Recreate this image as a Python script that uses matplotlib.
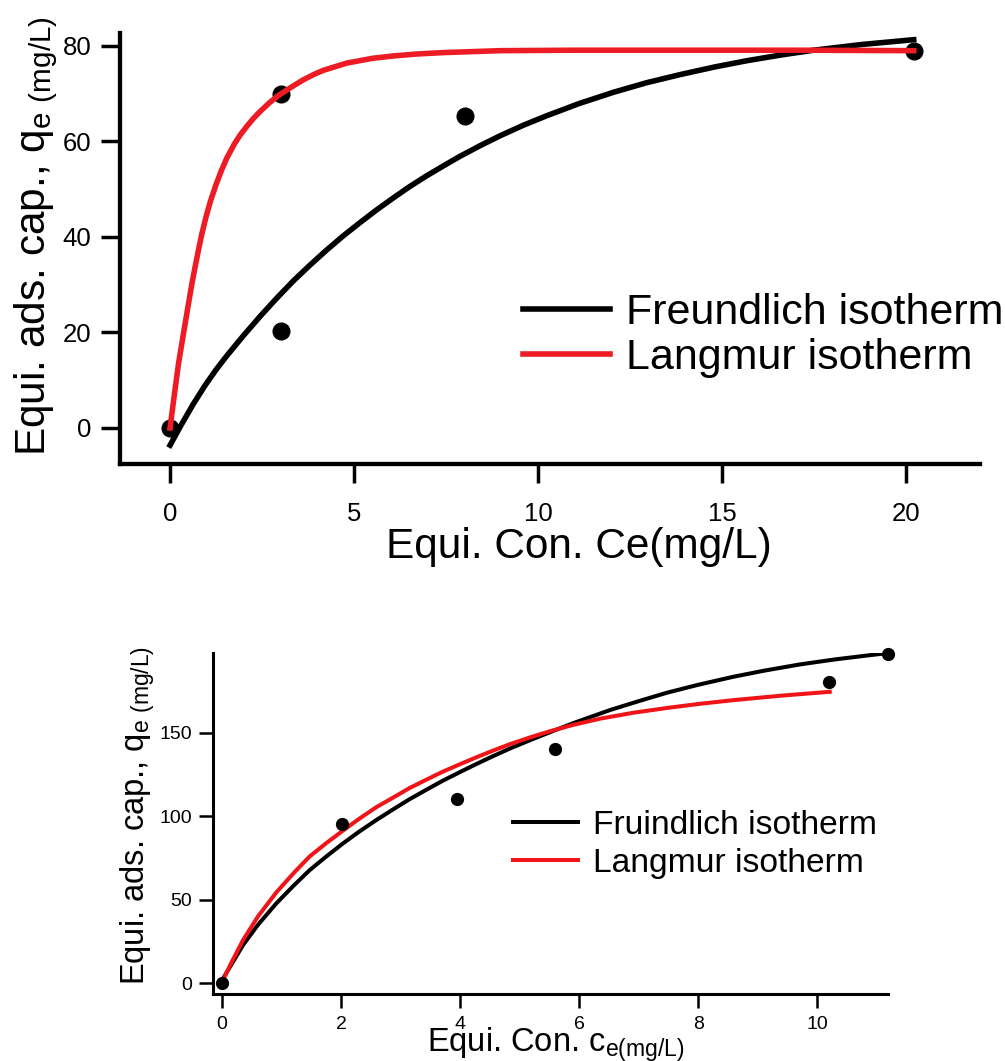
import matplotlib
matplotlib.use('Agg')
import matplotlib.pyplot as plt

plt.rcParams['font.family'] = ['Liberation Sans', 'DejaVu Sans']
plt.rcParams['mathtext.fontset'] = 'custom'
plt.rcParams['mathtext.rm'] = 'Liberation Sans'

# upper panel: measured points and the two fitted isotherms
ce_top = [0, 3, 3, 8, 20.2]
qe_top = [0, 70, 20.3, 65.3, 79.0]

freund_c_top = [0, 0.3, 0.63, 0.95, 1.25, 1.54, 2.0, 2.45, 2.9, 3.35, 3.8, 4.26,
                4.7, 5.16, 5.6, 6.07, 6.5, 6.97, 7.43, 7.88, 8.42, 8.97, 9.6,
                10.24, 11.1, 12.05, 12.95, 13.86, 14.8, 15.67, 16.6, 17.48,
                18.8, 20.2]
freund_q_top = [-3.6, 0.6, 5.0, 8.9, 12.2, 15.1, 19.4, 23.4, 27.2, 30.8, 34.1,
                37.3, 40.2, 43.0, 45.6, 48.2, 50.5, 52.8, 54.9, 56.9, 59.1, 61.2,
                63.4, 65.4, 67.9, 70.3, 72.3, 74.0, 75.6, 76.9, 78.1, 79.1,
                80.3, 81.3]

lang_c_top = [0, 0.1, 0.23, 0.38, 0.5, 0.6, 0.70, 0.78, 0.86, 0.97, 1.09, 1.25,
              1.4, 1.54, 1.75, 1.9, 2.10, 2.25, 2.45, 2.7, 2.94, 3.3, 3.62, 3.9,
              4.17, 4.8, 5.5, 6.07, 6.7, 7.43, 8.2, 8.97, 11, 14, 17, 20.2]
lang_q_top = [0, 6, 13.5, 20.5, 26, 30.5, 34.5, 37.6, 40.5, 44, 47.3, 51, 54,
              56.5, 59.5, 61.3, 63.3, 64.7, 66.3, 68.1, 69.6, 71.4, 72.9, 74.0,
              74.9, 76.4, 77.4, 77.9, 78.3, 78.6, 78.8, 79.0, 79.1, 79.1, 79.1,
              79.0]

# lower panel
ce_bot = [0, 2.02, 3.95, 5.6, 10.2, 11.19]
qe_bot = [0, 95.2, 110.2, 140.1, 180.6, 197.5]

freund_c_bot = [0, 0.15, 0.35, 0.6, 0.91, 1.2, 1.47, 1.75, 2.03, 2.3, 2.59, 2.9,
                3.15, 3.45, 3.71, 4.0, 4.28, 4.56, 4.84, 5.2, 5.6, 5.96, 6.52,
                7.0, 7.47, 8.0, 8.59, 9.1, 9.71, 10.3, 10.83, 11.19]
freund_q_bot = [2, 11, 22.9, 35, 47.9, 58.5, 67.8, 76, 83.8, 90.8, 97.8, 104.8,
                110.3, 116.3, 121.4, 126.6, 131.5, 136.2, 140.7, 146.0, 151.7,
                156.6, 163.7, 169.0, 174.0, 178.8, 183.6, 187.2, 191.0, 194.0,
                196.3, 197.8]

lang_c_bot = [0, 0.15, 0.35, 0.6, 0.91, 1.2, 1.47, 1.75, 2.03, 2.3, 2.59, 2.9,
              3.15, 3.45, 3.71, 4.0, 4.28, 4.56, 4.84, 5.2, 5.51, 5.9, 6.35, 6.9,
              7.47, 8.0, 8.59, 9.4, 10.21]
lang_q_bot = [1, 12, 25.9, 40, 54.5, 66, 76, 84, 91.5, 98.5, 105.5, 111.8, 117.0,
              122.3, 126.8, 131.3, 135.5, 139.5, 143.3, 147.6, 151.0, 154.8,
              158.5, 162.0, 164.9, 167.3, 169.6, 172.3, 174.6]

fig = plt.figure(figsize=(10.05, 10.61), dpi=100)
ax1 = fig.add_axes([0.1194, 0.5627, 0.8557, 0.4062])
ax2 = fig.add_axes([0.2116, 0.0631, 0.6720, 0.3217])

for ax in (ax1, ax2):
    ax.spines['top'].set_visible(False)
    ax.spines['right'].set_visible(False)

# --- top plot ---
red1 = '#ed1c24'
ax1.plot(ce_top, qe_top, 'o', color='black', ms=12, zorder=2, clip_on=False)
ax1.plot(freund_c_top, freund_q_top, color='black', lw=4, zorder=3,
         solid_joinstyle='round', label='Freundlich isotherm')
ax1.plot(lang_c_top, lang_q_top, color=red1, lw=4, zorder=4,
         solid_joinstyle='round', label='Langmur isotherm')
ax1.set_xlim(-1.36, 22.0)
ax1.set_ylim(-7.54, 82.7)
ax1.set_xticks([0, 5, 10, 15, 20])
ax1.set_yticks([0, 20, 40, 60, 80])
for s in ('left', 'bottom'):
    ax1.spines[s].set_linewidth(3.1)
ax1.tick_params(direction='out', length=13.5, width=2.5, labelsize=18.5)
ax1.tick_params(axis='x', pad=14)
ax1.tick_params(axis='y', pad=7)
ax1.set_xlabel('Equi. Con. Ce(mg/L)', fontsize=30.5)
ax1.xaxis.set_label_coords(0.5336, -0.146)
ax1.set_ylabel(r'Equi. ads. cap., q$_\mathregular{e\ (mg/L)}$', fontsize=30.5)
ax1.yaxis.set_label_coords(-0.07, 0.529)
ax1.legend(loc='center left', bbox_to_anchor=(0.4686, 0.298), frameon=False,
           fontsize=31, handlelength=2.02, handletextpad=0.37, labelspacing=0.12,
           borderpad=0, borderaxespad=0)

# --- bottom plot ---
red2 = '#f01418'
ax2.plot(freund_c_bot, freund_q_bot, color='black', lw=2.9, zorder=2,
         solid_joinstyle='round', label='Fruindlich isotherm')
ax2.plot(lang_c_bot, lang_q_bot, color=red2, lw=2.9, zorder=3,
         solid_joinstyle='round', label='Langmur isotherm')
ax2.plot(ce_bot, qe_bot, 'o', color='black', ms=8.5, zorder=4, clip_on=False)
ax2.set_xlim(-0.16, 11.19)
ax2.set_ylim(-6.4, 198)
ax2.set_xticks([0, 2, 4, 6, 8, 10])
ax2.set_yticks([0, 50, 100, 150])
for s in ('left', 'bottom'):
    ax2.spines[s].set_linewidth(2.2)
ax2.tick_params(direction='out', length=10, width=1.8, labelsize=14)
ax2.tick_params(axis='x', pad=6)
ax2.tick_params(axis='y', pad=5)
ax2.set_xlabel(r'Equi. Con. c$_\mathregular{e(mg/L)}$', fontsize=23.5)
ax2.xaxis.set_label_coords(0.5076, -0.092)
ax2.set_ylabel(r'Equi. ads. cap., q$_\mathregular{e\ (mg/L)}$', fontsize=23.5)
ax2.yaxis.set_label_coords(-0.082, 0.524)
ax2.legend(loc='center left', bbox_to_anchor=(0.4447, 0.438), frameon=False,
           fontsize=24.2, handlelength=1.93, handletextpad=0.45, labelspacing=0.22,
           borderpad=0, borderaxespad=0)

fig.savefig('out.png', dpi=100)
